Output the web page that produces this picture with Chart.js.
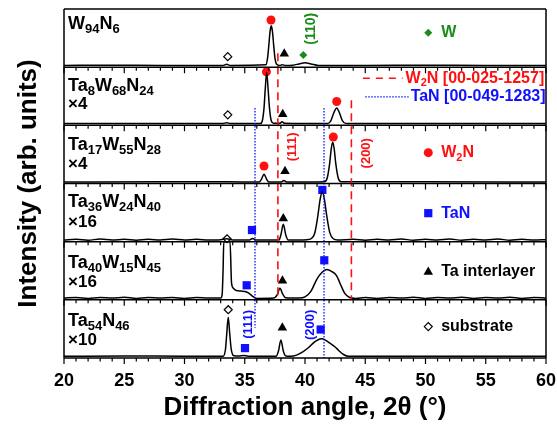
<!DOCTYPE html>
<html lang="en">
<head>
  <meta charset="UTF-8">
  <title>XRD patterns of Ta-W-N films</title>
  <style>
    body { margin: 0; background-color: #ffffff; }
    #wrap { width: 557px; height: 425px; }
  </style>
  <script src="https://cdn.jsdelivr.net/npm/chart.js"></script>
</head>
<body>
  <div id="wrap"><canvas id="xrdChart" width="557" height="425"></canvas></div>

  <script>
    // panels from top to bottom
    const panelNames = [
      ['W', '94', 'N', '6'],
      ['Ta', '8', 'W', '68', 'N', '24'],
      ['Ta', '17', 'W', '55', 'N', '28'],
      ['Ta', '36', 'W', '24', 'N', '40'],
      ['Ta', '40', 'W', '15', 'N', '45'],
      ['Ta', '54', 'N', '46']
    ];
    const panelFactors = ['', '×4', '×4', '×16', '×16', '×10'];
    const tickLabels = [20, 25, 30, 35, 40, 45, 50, 55, 60];
    const xTitle = 'Diffraction angle, 2θ (°)';
    const yTitle = 'Intensity (arb. units)';

    // [2theta, intensity within panel]
    const scanW94N6 = [[20,0.03],[24,0.032],[28,0.03],[33.2,0.03],[33.5,0.05],[33.8,0.03],[36.75,0.04],[36.9,0.17],[37.0,0.38],[37.1,0.61],[37.2,0.71],[37.3,0.61],[37.4,0.38],[37.5,0.17],[37.65,0.05],[37.9,0.03],[38.1,0.04],[38.4,0.03],[39.0,0.035],[39.5,0.055],[40.0,0.075],[40.5,0.055],[41.1,0.03],[45,0.03],[50,0.032],[55,0.03],[60,0.03]];
    const scanTa8W68N24 = [[20,0.03],[26,0.032],[33.2,0.03],[33.5,0.045],[33.8,0.03],[36.3,0.03],[36.45,0.07],[36.6,0.3],[36.7,0.62],[36.82,0.91],[36.94,0.62],[37.05,0.3],[37.2,0.08],[37.4,0.035],[37.9,0.035],[38.1,0.06],[38.3,0.035],[41.9,0.03],[42.15,0.08],[42.4,0.22],[42.63,0.30],[42.85,0.22],[43.1,0.08],[43.4,0.03],[50,0.03],[60,0.03]];
    const scanTa17W55N28 = [[20,0.025],[28,0.028],[33.5,0.03],[36.2,0.025],[36.4,0.08],[36.6,0.16],[36.8,0.08],[37.0,0.025],[38.0,0.025],[38.25,0.05],[38.5,0.025],[41.6,0.03],[41.85,0.1],[42.05,0.35],[42.18,0.6],[42.3,0.71],[42.42,0.6],[42.55,0.35],[42.75,0.1],[43.0,0.03],[50,0.028],[60,0.025]];
    const scanTa36W24N40 = [[20,0.03],[21,0.04],[22,0.025],[23,0.045],[24,0.03],[25,0.04],[26,0.025],[27,0.04],[28,0.03],[29,0.045],[30,0.03],[31,0.04],[32,0.03],[33,0.035],[33.5,0.05],[34,0.03],[35.4,0.03],[35.65,0.055],[35.9,0.03],[37.85,0.03],[38.0,0.12],[38.2,0.30],[38.4,0.12],[38.6,0.03],[40.2,0.035],[40.5,0.05],[40.8,0.14],[41.05,0.42],[41.25,0.72],[41.43,0.86],[41.6,0.74],[41.8,0.45],[42.05,0.16],[42.35,0.05],[42.7,0.03],[44,0.04],[45,0.025],[46,0.04],[47,0.03],[48,0.045],[49,0.025],[50,0.04],[51,0.03],[52,0.045],[53,0.025],[54,0.04],[55,0.03],[56,0.045],[57,0.025],[58,0.04],[59,0.03],[60,0.035]];
    const scanTa40W15N45 = [[20,0.03],[21,0.04],[22,0.025],[23,0.04],[24,0.03],[25,0.045],[26,0.025],[27,0.04],[28,0.03],[29,0.04],[30,0.025],[31,0.04],[32,0.03],[33.0,0.03],[33.12,0.08],[33.2,0.5],[33.26,1.0],[33.78,1.0],[33.9,0.3],[34.05,0.2],[34.3,0.16],[34.7,0.15],[35.0,0.145],[35.3,0.12],[35.6,0.07],[36.0,0.025],[37.4,0.03],[37.7,0.09],[37.92,0.2],[38.15,0.1],[38.4,0.035],[39.5,0.03],[40.0,0.05],[40.5,0.15],[41.0,0.36],[41.4,0.47],[41.8,0.52],[42.2,0.49],[42.6,0.42],[43.0,0.24],[43.3,0.11],[43.7,0.04],[44.2,0.025],[45,0.04],[46,0.025],[47,0.04],[48,0.03],[49,0.045],[50,0.025],[51,0.04],[52,0.03],[53,0.045],[54,0.025],[55,0.04],[56,0.03],[57,0.045],[58,0.025],[59,0.04],[60,0.03]];
    const scanTa54N46 = [[20,0.03],[25,0.035],[30,0.03],[33.2,0.03],[33.4,0.15],[33.5,0.4],[33.63,0.70],[33.76,0.4],[33.88,0.15],[34.1,0.04],[34.5,0.035],[34.9,0.045],[35.3,0.03],[37.6,0.03],[37.8,0.12],[38.0,0.31],[38.2,0.12],[38.4,0.035],[38.8,0.03],[39.3,0.05],[39.85,0.11],[40.3,0.18],[40.7,0.26],[41.05,0.31],[41.4,0.33],[41.75,0.30],[42.1,0.25],[42.5,0.19],[42.8,0.13],[43.2,0.06],[43.6,0.03],[50,0.03],[60,0.03]];
    const scans = [scanW94N6, scanTa8W68N24, scanTa17W55N28, scanTa36W24N40, scanTa40W15N45, scanTa54N46];

    // phase markers: [panel, 2theta, height within panel]
    const wMarks = [[0, 39.86, 0.21]];
    const w2nMarks = [[0, 37.18, 0.81], [1, 36.8, 0.92], [1, 42.63, 0.41], [2, 36.6, 0.30], [2, 42.35, 0.80]];
    const tanMarks = [[3, 35.6, 0.20], [3, 41.44, 0.89], [4, 35.16, 0.25], [4, 41.6, 0.68], [5, 35.02, 0.17], [5, 41.3, 0.49]];
    const taMarks = [[0, 38.28, 0.23], [1, 38.15, 0.19], [2, 38.34, 0.21], [3, 38.2, 0.40], [4, 38.13, 0.33], [5, 38.12, 0.52]];
    const subMarks = [[0, 33.59, 0.18], [1, 33.59, 0.18], [4, 33.53, 1.05], [5, 33.63, 0.83]];
    // key markers on the right: [panel, 2theta, height]
    const keyW = [[0, 50.23, 0.59]];
    const keyW2N = [[2, 50.23, 0.53]];
    const keyTaN = [[3, 50.23, 0.49]];
    const keyTa = [[4, 50.23, 0.48]];
    const keySub = [[5, 50.23, 0.54]];

    // reference lines: [2theta, from, to] in stacked units (0 = bottom, 6 = top)
    const w2nRefs = [[37.75, 5.24, 1.0], [43.85, 4.43, 1.0]];
    const tanRefs = [[35.85, 4.30, 0.52], [41.58, 4.30, 0.0]];
    const w2nSample = [[44.8, 4.81], [48.1, 4.81]];
    const tanSample = [[45.0, 4.49], [48.6, 4.49]];

    const FONT = "'Liberation Sans', Arial, sans-serif";
    const RED = '#ff1010', BLUE = '#1010ff', GREEN = '#1a8c1a';

    function toPoints(marks) {
      return marks.map(([p, t, h]) => ({ x: t, y: 5 - p + h }));
    }
    function markSet(marks, style, radius, fill, border) {
      return {
        type: 'scatter', data: toPoints(marks), pointStyle: style, pointRadius: radius,
        backgroundColor: fill, borderColor: border || fill, borderWidth: border ? 1.2 : 0, clip: false
      };
    }

    const datasets = [];
    w2nRefs.forEach(([t, a, b]) => datasets.push({
      type: 'line', data: [{ x: t, y: a }, { x: t, y: b }], borderColor: RED, borderWidth: 1.6,
      borderDash: [8, 5], pointRadius: 0
    }));
    tanRefs.forEach(([t, a, b]) => datasets.push({
      type: 'line', data: [{ x: t, y: a }, { x: t, y: b }], borderColor: BLUE, borderWidth: 1.3,
      borderDash: [1.5, 1.5], pointRadius: 0
    }));
    datasets.push({ type: 'line', data: w2nSample.map(([x, y]) => ({ x, y })), borderColor: RED, borderWidth: 1.6, borderDash: [7, 6], pointRadius: 0 });
    datasets.push({ type: 'line', data: tanSample.map(([x, y]) => ({ x, y })), borderColor: BLUE, borderWidth: 1.3, borderDash: [1.5, 1.5], pointRadius: 0 });

    scans.forEach((scan, k) => datasets.push({
      type: 'line', data: scan.map(([t, v]) => ({ x: t, y: 5 - k + v })), borderColor: '#000000',
      borderWidth: 1.5, pointRadius: 0, cubicInterpolationMode: 'monotone'
    }));

    datasets.push(markSet(wMarks.concat(keyW), 'rectRot', 4, GREEN));
    datasets.push(markSet(w2nMarks.concat(keyW2N), 'circle', 4.5, RED));
    datasets.push(markSet(tanMarks.concat(keyTaN), 'rect', 5.8, BLUE));
    datasets.push(markSet(taMarks.concat(keyTa), 'triangle', 5.5, '#000000'));
    datasets.push(markSet(subMarks.concat(keySub), 'rectRot', 4, '#ffffff', '#000000'));

    // even parts normal, odd parts subscript
    function drawParts(ctx, parts, x, y, size, subSize, color) {
      ctx.fillStyle = color;
      ctx.textBaseline = 'middle';
      ctx.textAlign = 'left';
      parts.forEach((s, i) => {
        const sub = i % 2 === 1;
        ctx.font = 'bold ' + (sub ? subSize : size) + 'px ' + FONT;
        ctx.fillText(s, x, sub ? y + size * 0.3 : y);
        x += ctx.measureText(s).width;
      });
    }
    function drawRotated(ctx, text, x, y, size, color) {
      ctx.save();
      ctx.translate(x, y);
      ctx.rotate(-Math.PI / 2);
      ctx.font = 'bold ' + size + 'px ' + FONT;
      ctx.fillStyle = color;
      ctx.textAlign = 'center';
      ctx.textBaseline = 'middle';
      ctx.fillText(text, 0, 0);
      ctx.restore();
    }

    const nameOffsets = [15, 19, 20, 19, 21, 21];
    const factorOffsets = [0, 37, 39, 39, 41, 40];

    const framePlugin = {
      id: 'frame',
      afterDatasetsDraw(chart) {
        const ctx = chart.ctx;
        const xs = chart.scales.x, ys = chart.scales.y;
        const left = xs.left, right = xs.right;
        const top = ys.getPixelForValue(6), bottom = ys.getPixelForValue(0);
        ctx.save();
        ctx.strokeStyle = '#000000';
        ctx.lineWidth = 1.5;
        ctx.beginPath();
        for (let b = 0; b <= 6; b++) {
          const py = ys.getPixelForValue(b);
          ctx.moveTo(left, py);
          ctx.lineTo(right, py);
        }
        ctx.moveTo(left, top);
        ctx.lineTo(left, bottom);
        ctx.moveTo(right, top);
        ctx.lineTo(right, bottom);
        ctx.stroke();

        // ticks under each panel
        ctx.lineWidth = 1.2;
        ctx.beginPath();
        for (let b = 0; b <= 5; b++) {
          const py = ys.getPixelForValue(b);
          for (let v = 20; v <= 60; v++) {
            const px = xs.getPixelForValue(v);
            const len = v % 5 === 0 ? 6 : 3.5;
            ctx.moveTo(px, py);
            ctx.lineTo(px, py + len);
          }
        }
        ctx.stroke();

        // x tick labels and axis titles
        ctx.fillStyle = '#000000';
        ctx.textAlign = 'center';
        ctx.textBaseline = 'middle';
        ctx.font = 'bold 18px ' + FONT;
        tickLabels.forEach(v => ctx.fillText(String(v), xs.getPixelForValue(v), bottom + 23));
        ctx.font = 'bold 26px ' + FONT;
        ctx.fillText(xTitle, (left + right) / 2, bottom + 50);
        drawRotated(ctx, yTitle, 29, (top + bottom) / 2, 26, '#000000');

        // sample names
        panelNames.forEach((parts, k) => {
          const pTop = ys.getPixelForValue(6 - k);
          drawParts(ctx, parts, left + 4, pTop + nameOffsets[k], 18, 13, '#000000');
          if (panelFactors[k]) {
            drawParts(ctx, [panelFactors[k]], left + 4, pTop + factorOffsets[k], 17, 12, '#000000');
          }
        });

        // key texts
        const kx = xs.getPixelForValue(51.3);
        drawParts(ctx, ['W'], kx, ys.getPixelForValue(5 + keyW[0][2]), 16, 11, GREEN);
        drawParts(ctx, ['W', '2', 'N'], kx, ys.getPixelForValue(3 + keyW2N[0][2]), 16, 11, RED);
        drawParts(ctx, ['TaN'], kx, ys.getPixelForValue(2 + keyTaN[0][2]), 16, 11, BLUE);
        drawParts(ctx, ['Ta interlayer'], kx, ys.getPixelForValue(1 + keyTa[0][2]), 16, 11, '#000000');
        drawParts(ctx, ['substrate'], kx, ys.getPixelForValue(keySub[0][2]), 16, 11, '#000000');
        drawParts(ctx, ['W', '2', 'N', '', ' [00-025-1257]'], xs.getPixelForValue(w2nSample[1][0]) + 3, ys.getPixelForValue(w2nSample[0][1]), 16, 11, RED);
        drawParts(ctx, ['TaN [00-049-1283]'], xs.getPixelForValue(tanSample[1][0]) + 2, ys.getPixelForValue(tanSample[0][1]), 16, 11, BLUE);

        // Miller indices
        drawRotated(ctx, '(110)', xs.getPixelForValue(40.47), ys.getPixelForValue(5.66), 14, GREEN);
        drawRotated(ctx, '(111)', xs.getPixelForValue(38.92), ys.getPixelForValue(3.63), 13, RED);
        drawRotated(ctx, '(200)', xs.getPixelForValue(45.1), ys.getPixelForValue(3.52), 13, RED);
        drawRotated(ctx, '(111)', xs.getPixelForValue(35.27), ys.getPixelForValue(0.58), 13, BLUE);
        drawRotated(ctx, '(200)', xs.getPixelForValue(40.41), ys.getPixelForValue(0.57), 13, BLUE);
        ctx.restore();
      }
    };

    new Chart(document.getElementById('xrdChart'), {
      type: 'line',
      data: { datasets: datasets },
      options: {
        responsive: false,
        animation: false,
        layout: { padding: { top: 9, right: 11, left: 64, bottom: 67 } },
        plugins: { legend: { display: false }, tooltip: { enabled: false } },
        scales: {
          x: { type: 'linear', min: 20, max: 60, display: false },
          y: { type: 'linear', min: 0, max: 6, display: false }
        }
      },
      plugins: [framePlugin]
    });
  </script>
</body>
</html>
